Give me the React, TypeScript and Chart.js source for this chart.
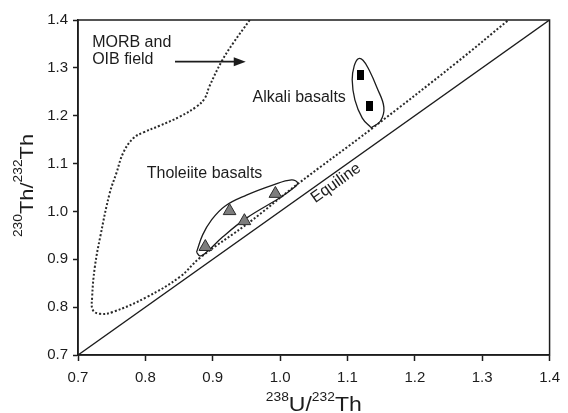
import React, { useEffect, useRef } from "react";
import { Chart, registerables } from "chart.js";

Chart.register(...registerables);

// ---- tick values ----
const xTicks = [0.7, 0.8, 0.9, 1.0, 1.1, 1.2, 1.3, 1.4];
const yTicks = [0.7, 0.8, 0.9, 1.0, 1.1, 1.2, 1.3, 1.4];

// ---- sample points ----
const tholeiiteU = [0.889, 0.925, 0.947, 0.993];
const tholeiiteTh = [0.926, 1.001, 0.980, 1.037];
const alkaliU = [1.119, 1.132];
const alkaliTh = [1.285, 1.220];

// ---- equiline ----
const equilineU = [0.7, 1.4];
const equilineTh = [0.7, 1.4];

// ---- MORB and OIB field boundary (dotted) ----
const morbU = [0.955, 0.930, 0.913, 0.895, 0.888, 0.876, 0.851, 0.821, 0.797, 0.782, 0.767, 0.757, 0.747, 0.733, 0.725, 0.721, 0.722, 0.733, 0.752, 0.802, 0.851, 0.881, 0.955, 1.024, 1.137, 1.261, 1.339];
const morbTh = [1.400, 1.351, 1.313, 1.261, 1.236, 1.219, 1.198, 1.179, 1.165, 1.153, 1.122, 1.080, 1.038, 0.947, 0.884, 0.821, 0.794, 0.786, 0.790, 0.821, 0.863, 0.903, 0.978, 1.055, 1.174, 1.310, 1.400];

// ---- enclosing loops ----
const tholLoopU = [0.876, 0.885, 0.898, 0.918, 0.950, 0.989, 1.017, 1.026, 1.018, 0.999, 0.950, 0.915, 0.891, 0.881, 0.876];
const tholLoopTh = [0.915, 0.951, 0.982, 1.011, 1.034, 1.055, 1.066, 1.059, 1.047, 1.028, 0.986, 0.947, 0.915, 0.907, 0.915];
const alkLoopU = [1.135, 1.122, 1.111, 1.107, 1.110, 1.116, 1.123, 1.132, 1.144, 1.154, 1.149, 1.135];
const alkLoopTh = [1.175, 1.195, 1.233, 1.275, 1.304, 1.319, 1.316, 1.296, 1.258, 1.218, 1.189, 1.175];

// ---- annotation texts ----
const fieldLabels = ["MORB and", "OIB field", "Tholeiite basalts", "Alkali basalts"];
const fieldLabelU = [0.721, 0.721, 0.802, 0.959];
const fieldLabelTh = [1.344, 1.308, 1.070, 1.229];
const arrowU = [0.844, 0.949];
const arrowTh = [1.313, 1.313];
const equilineLabel = "Equiline";
const equilineLabelU = 1.083;
const equilineLabelTh = 1.059;

const FONT = '"Liberation Sans", Arial, Helvetica, sans-serif';
const INK = "#1c1c1c";

const pts = (u: number[], th: number[]) => u.map((v, i) => ({ x: v, y: th[i] }));

type Part = { t: string; sup?: boolean };

function drawRich(
  ctx: CanvasRenderingContext2D,
  parts: Part[],
  cx: number,
  cy: number,
  rot: number,
  mainSize: number,
  supSize: number,
  supRaise: number,
  stretch: number
) {
  ctx.save();
  ctx.translate(cx, cy);
  ctx.rotate(rot);
  ctx.scale(stretch, 1);
  let total = 0;
  const widths = parts.map((p) => {
    ctx.font = `${p.sup ? supSize : mainSize}px ${FONT}`;
    const w = ctx.measureText(p.t).width;
    total += w;
    return w;
  });
  let x = -total / 2;
  ctx.fillStyle = INK;
  ctx.textAlign = "left";
  ctx.textBaseline = "alphabetic";
  parts.forEach((p, i) => {
    ctx.font = `${p.sup ? supSize : mainSize}px ${FONT}`;
    ctx.fillText(p.t, x, p.sup ? -supRaise : 0);
    x += widths[i];
  });
  ctx.restore();
}

const decorPlugin = {
  id: "decor",
  afterDraw(chart: any) {
    const ctx: CanvasRenderingContext2D = chart.ctx;
    const xs = chart.scales.x;
    const ys = chart.scales.y;
    const a = chart.chartArea;
    ctx.save();
    // frame
    ctx.strokeStyle = INK;
    ctx.lineWidth = 1.5;
    ctx.strokeRect(a.left, a.top, a.right - a.left, a.bottom - a.top);

    // field labels
    ctx.fillStyle = INK;
    ctx.font = `16px ${FONT}`;
    ctx.textAlign = "left";
    ctx.textBaseline = "alphabetic";
    fieldLabels.forEach((t, i) => {
      ctx.fillText(t, xs.getPixelForValue(fieldLabelU[i]), ys.getPixelForValue(fieldLabelTh[i]));
    });

    // arrow
    const ax1 = xs.getPixelForValue(arrowU[0]);
    const ax2 = xs.getPixelForValue(arrowU[1]);
    const ay = ys.getPixelForValue(arrowTh[0]);
    ctx.lineWidth = 1.6;
    ctx.beginPath();
    ctx.moveTo(ax1, ay);
    ctx.lineTo(ax2 - 9, ay);
    ctx.stroke();
    ctx.beginPath();
    ctx.moveTo(ax2, ay);
    ctx.lineTo(ax2 - 12, ay - 4.5);
    ctx.lineTo(ax2 - 12, ay + 4.5);
    ctx.closePath();
    ctx.fill();

    // equiline label
    const dx = xs.getPixelForValue(equilineU[1]) - xs.getPixelForValue(equilineU[0]);
    const dy = ys.getPixelForValue(equilineTh[1]) - ys.getPixelForValue(equilineTh[0]);
    const ang = Math.atan2(dy, dx);
    ctx.save();
    ctx.translate(xs.getPixelForValue(equilineLabelU), ys.getPixelForValue(equilineLabelTh));
    ctx.rotate(ang);
    ctx.font = `16px ${FONT}`;
    ctx.textAlign = "center";
    ctx.textBaseline = "middle";
    ctx.fillText(equilineLabel, 0, 0);
    ctx.restore();

    // axis titles
    drawRich(
      ctx,
      [{ t: "238", sup: true }, { t: "U/" }, { t: "232", sup: true }, { t: "Th" }],
      (a.left + a.right) / 2,
      a.bottom + 56,
      0,
      20,
      12,
      10,
      1.15
    );
    drawRich(
      ctx,
      [{ t: "230", sup: true }, { t: "Th/" }, { t: "232", sup: true }, { t: "Th" }],
      33,
      (a.top + a.bottom) / 2 - 2,
      -Math.PI / 2,
      19,
      12,
      11,
      1.15
    );
    ctx.restore();
  },
};

export default function App() {
  const ref = useRef<HTMLCanvasElement>(null);
  useEffect(() => {
    const canvas = ref.current!;
    const sq = document.createElement("canvas");
    sq.width = 7;
    sq.height = 10;
    const sctx = sq.getContext("2d")!;
    sctx.fillStyle = "#000";
    sctx.fillRect(0, 0, 7, 10);

    const axisCommon = (ticks: number[], pad: number, tl: number) => ({
      type: "linear" as const,
      min: ticks[0],
      max: ticks[ticks.length - 1],
      afterBuildTicks: (s: any) => {
        s.ticks = ticks.map((v) => ({ value: v }));
      },
      ticks: {
        color: INK,
        font: { family: FONT, size: 15 },
        padding: pad,
        callback: (v: any) => Number(v).toFixed(1),
      },
      grid: {
        display: true,
        drawOnChartArea: false,
        drawTicks: true,
        tickLength: tl,
        tickColor: INK,
        tickWidth: 1.5,
      },
      border: { display: true, color: INK, width: 1.5 },
      title: { display: false },
    });

    const chart = new Chart(canvas, {
      type: "scatter",
      data: {
        datasets: [
          {
            label: "Alkali basalts",
            data: pts(alkaliU, alkaliTh),
            pointStyle: sq as any,
            pointRadius: 5,
            showLine: false,
          },
          {
            label: "Tholeiite basalts",
            data: pts(tholeiiteU, tholeiiteTh),
            pointStyle: "triangle",
            pointRadius: 7.3,
            backgroundColor: "#7d7d7d",
            borderColor: "#2a2a2a",
            borderWidth: 1,
            showLine: false,
          },
          {
            label: "Alkali loop",
            data: pts(alkLoopU, alkLoopTh),
            showLine: true,
            pointRadius: 0,
            borderColor: INK,
            borderWidth: 1.3,
            tension: 0.4,
            fill: false,
          },
          {
            label: "Tholeiite loop",
            data: pts(tholLoopU, tholLoopTh),
            showLine: true,
            pointRadius: 0,
            borderColor: INK,
            borderWidth: 1.3,
            tension: 0.4,
            fill: false,
          },
          {
            label: "Equiline",
            data: pts(equilineU, equilineTh),
            showLine: true,
            pointRadius: 0,
            borderColor: INK,
            borderWidth: 1.4,
            tension: 0,
            fill: false,
          },
          {
            label: "MORB and OIB field",
            data: pts(morbU, morbTh),
            showLine: true,
            pointRadius: 0,
            borderColor: "#2a2a2a",
            borderWidth: 2,
            borderDash: [2, 2],
            tension: 0.4,
            fill: false,
          },
        ],
      },
      options: {
        responsive: false,
        animation: false,
        devicePixelRatio: 1,
        layout: { padding: { top: 20, right: 17, left: 0, bottom: 0 } },
        plugins: {
          legend: { display: false },
          tooltip: { enabled: false },
          title: { display: false },
        },
        elements: { line: { capBezierPoints: false } },
        scales: {
          x: {
            ...axisCommon(xTicks, 8, 6),
            position: "bottom",
            afterFit: (s: any) => {
              s.height = 58;
            },
          },
          y: {
            ...axisCommon(yTicks, 5, 5),
            position: "left",
            afterFit: (s: any) => {
              s.width = 78;
            },
          },
        },
      },
      plugins: [decorPlugin],
    } as any);
    return () => chart.destroy();
  }, []);

  return (
    <div style={{ position: "fixed", left: 0, top: 0, width: 568, height: 413, background: "#fff" }}>
      <canvas ref={ref} width={568} height={413} style={{ display: "block", width: 568, height: 413 }} />
    </div>
  );
}
